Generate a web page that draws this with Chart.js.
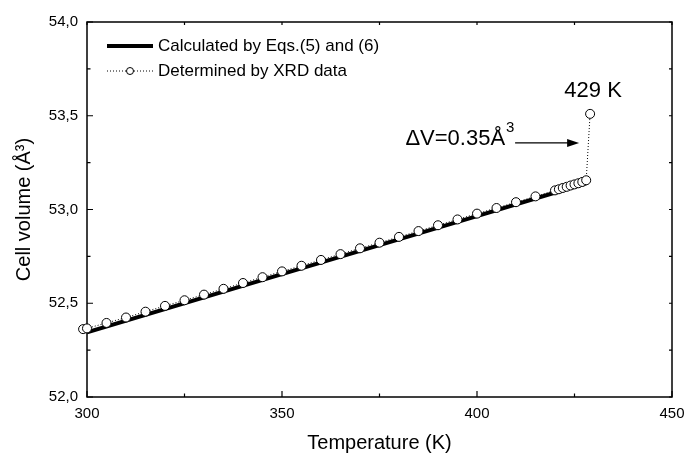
<!DOCTYPE html>
<html>
<head>
<meta charset="utf-8">
<script src="https://cdn.jsdelivr.net/npm/chart.js@4.4.0/dist/chart.umd.min.js"></script>
<style>
html, body { margin: 0; padding: 0; background: #fff; }
</style>
</head>
<body>
<canvas id="cell_volume" width="684" height="454"></canvas>
<script>
// XRD data
var xrdTemps = [299, 300, 305, 310, 315, 320, 325, 330, 335, 340, 345, 350, 355, 360, 365, 370, 375, 380, 385, 390, 395, 400, 405, 410, 415, 420, 421, 422, 423, 424, 425, 426, 427, 428, 429];
var xrdVolumes = [52.362, 52.366, 52.395, 52.424, 52.455, 52.486, 52.516, 52.546, 52.577, 52.608, 52.639, 52.670, 52.700, 52.731, 52.762, 52.793, 52.823, 52.854, 52.885, 52.916, 52.947, 52.978, 53.008, 53.039, 53.070, 53.102, 53.108, 53.115, 53.121, 53.128, 53.134, 53.140, 53.147, 53.156, 53.510];
// calculated by Eqs.(5) and (6)
var calcTemps = [300, 350, 400, 428];
var calcVolumes = [52.345, 52.655, 52.965, 53.140];
// axis ticks
var xMajor = [300, 350, 400, 450];
var xMinor = [325, 375, 425];
var yMajor = [52.0, 52.5, 53.0, 53.5, 54.0];
var yMinor = [52.25, 52.75, 53.25, 53.75];

var FONT = '"Liberation Sans", Arial, sans-serif';

function toPoints(xs, ys) {
    return xs.map(function (x, i) { return { x: x, y: ys[i] }; });
}

// frame + inward ticks, legend and notes
var framePlugin = {
    id: 'frame',
    beforeDatasetsDraw: function (chart) {
        var c = chart.ctx, a = chart.chartArea;
        var xs = chart.scales.x, ys = chart.scales.y;
        c.save();
        c.strokeStyle = '#000';
        c.lineWidth = 1.5;
        c.strokeRect(a.left, a.top, a.right - a.left, a.bottom - a.top);
        c.lineWidth = 1.2;
        c.beginPath();
        xMajor.forEach(function (v) { var px = xs.getPixelForValue(v); c.moveTo(px, a.bottom); c.lineTo(px, a.bottom - 6); });
        xMinor.forEach(function (v) { var px = xs.getPixelForValue(v); c.moveTo(px, a.bottom); c.lineTo(px, a.bottom - 3.5); });
        yMajor.forEach(function (v) { var py = ys.getPixelForValue(v); c.moveTo(a.left, py); c.lineTo(a.left + 6, py); });
        yMinor.forEach(function (v) { var py = ys.getPixelForValue(v); c.moveTo(a.left, py); c.lineTo(a.left + 3.5, py); });
        // small ticks on top and right
        xMajor.concat(xMinor).forEach(function (v) { var px = xs.getPixelForValue(v); c.moveTo(px, a.top); c.lineTo(px, a.top + 3); });
        yMajor.concat(yMinor).forEach(function (v) { var py = ys.getPixelForValue(v); c.moveTo(a.right, py); c.lineTo(a.right - 3, py); });
        c.stroke();
        c.restore();
    },
    afterDatasetsDraw: function (chart) {
        var c = chart.ctx, a = chart.chartArea;
        var xs = chart.scales.x, ys = chart.scales.y;
        c.save();
        // legend
        var lx = a.left + 20, row1 = a.top + 24, row2 = a.top + 49;
        c.strokeStyle = '#000';
        c.lineWidth = 4;
        c.beginPath(); c.moveTo(lx, row1); c.lineTo(lx + 46, row1); c.stroke();
        c.lineWidth = 1;
        c.setLineDash([1, 2]);
        c.beginPath(); c.moveTo(lx, row2); c.lineTo(lx + 46, row2); c.stroke();
        c.setLineDash([]);
        c.fillStyle = '#fff';
        c.beginPath(); c.arc(lx + 23, row2, 3.5, 0, Math.PI * 2); c.fill(); c.stroke();
        c.fillStyle = '#000';
        c.font = '17px ' + FONT;
        c.textBaseline = 'middle';
        c.textAlign = 'left';
        c.fillText('Calculated by Eqs.(5) and (6)', lx + 51, row1);
        c.fillText('Determined by XRD data', lx + 51, row2);

        // notes
        var tx = xs.getPixelForValue(429), ty = ys.getPixelForValue(53.510);
        c.font = '22px ' + FONT;
        c.textAlign = 'center';
        c.fillText('429 K', tx + 3, ty - 23);

        var ay = ys.getPixelForValue(53.355);
        var ax1 = tx - 75, ax2 = tx - 11;
        c.lineWidth = 1.2;
        c.beginPath(); c.moveTo(ax1, ay); c.lineTo(ax2 - 8, ay); c.stroke();
        c.beginPath(); c.moveTo(ax2, ay); c.lineTo(ax2 - 12, ay - 4); c.lineTo(ax2 - 12, ay + 4); c.closePath(); c.fill();
        c.textAlign = 'right';
        c.fillText('\u0394V=0.35\u00c5', ax1 - 10, ay - 4);
        c.font = '15px ' + FONT;
        c.textAlign = 'left';
        c.fillText('3', ax1 - 9, ay - 15);
        c.restore();
    }
};

var ctx = document.getElementById('cell_volume').getContext('2d');
var cellChart = new Chart(ctx, {
    type: 'scatter',
    data: {
        datasets: [{
            label: 'Determined by XRD data',
            data: toPoints(xrdTemps, xrdVolumes),
            showLine: true,
            borderColor: '#000',
            borderWidth: 1,
            borderDash: [1, 2],
            pointRadius: 4.5,
            pointBackgroundColor: '#fff',
            pointBorderColor: '#000',
            pointBorderWidth: 1,
            clip: false
        }, {
            label: 'Calculated by Eqs.(5) and (6)',
            data: toPoints(calcTemps, calcVolumes),
            showLine: true,
            borderColor: '#000',
            borderWidth: 4,
            pointRadius: 0
        }]
    },
    options: {
        responsive: false,
        animation: false,
        layout: { padding: { top: 22, right: 12, left: 0, bottom: 0 } },
        plugins: {
            legend: { display: false },
            tooltip: { enabled: false }
        },
        scales: {
            x: {
                type: 'linear',
                min: 300,
                max: 450,
                afterFit: function (s) { s.height = 57; s.paddingRight = 0; s.paddingLeft = 0; },
                grid: { display: false, drawTicks: false },
                border: { display: false },
                ticks: {
                    stepSize: 50,
                    padding: 8,
                    color: '#000',
                    font: { family: FONT, size: 15 },
                    maxRotation: 0
                },
                title: {
                    display: true,
                    text: 'Temperature (K)',
                    color: '#000',
                    font: { family: FONT, size: 20, lineHeight: 1 },
                    padding: { top: 0, bottom: 1 }
                }
            },
            y: {
                min: 52,
                max: 54,
                afterFit: function (s) { s.width = 87; s.paddingTop = 0; s.paddingBottom = 0; },
                grid: { display: false, drawTicks: false },
                border: { display: false },
                ticks: {
                    stepSize: 0.5,
                    padding: 9,
                    color: '#000',
                    font: { family: FONT, size: 15 },
                    callback: function (v) { return v.toFixed(1).replace('.', ','); }
                },
                title: {
                    display: true,
                    text: 'Cell volume (\u00c5\u00b3)',
                    color: '#000',
                    font: { family: FONT, size: 20, lineHeight: 1 },
                    padding: { top: 14, bottom: 0 }
                }
            }
        }
    },
    plugins: [framePlugin]
});
</script>
</body>
</html>
